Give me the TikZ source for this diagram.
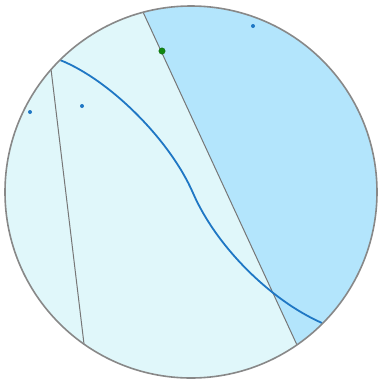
\documentclass[tikz,border=0pt]{standalone}
\usetikzlibrary{calc}
\definecolor{lightfill}{HTML}{E0F7FA}
\definecolor{darkfill}{HTML}{B3E5FC}
\definecolor{rimgray}{HTML}{888888}
\definecolor{linegray}{HTML}{777777}
\definecolor{curveblue}{HTML}{1F77C4}
\definecolor{dotgreen}{HTML}{118811}
\tikzset{
  rim/.style={draw=rimgray, line width=1.6pt},
  chord/.style={draw=linegray, line width=1.0pt},
  geo/.style={draw=curveblue, line width=1.8pt},
  bdot/.style={circle, fill=curveblue, inner sep=0pt, minimum size=4pt},
  gdot/.style={circle, fill=dotgreen, draw=dotgreen!70!black, line width=0.3pt, inner sep=0pt, minimum size=6.5pt}
}
\begin{document}
\begin{tikzpicture}[x=1pt,y=-1pt]
\useasboundingbox (0,0) rectangle (378,381);
\coordinate (O) at (191,192);
\fill[lightfill] (O) circle[radius=186pt];
\begin{scope}
  \clip (O) circle[radius=186pt];
  \fill[darkfill] (128.2,-20) -- (322.4,400) -- (420,400) -- (420,-20) -- cycle;
\end{scope}
\coordinate (a1) at (51,69);
\coordinate (a2) at (84,344);
\coordinate (b1) at (143,12);
\coordinate (b2) at (297,345);
\coordinate (c1) at (60,60);
\coordinate (cm) at (193,193);
\coordinate (c2) at (322,323);
\draw[chord] (a1) -- (a2);
\draw[chord] (b1) -- (b2);
\draw[geo] (c1) .. controls (110,80) and (170,140) .. (cm)
                .. controls (216,246) and (270,300) .. (c2);
\draw[rim] (O) circle[radius=186pt];
\node[bdot] (p1) at (253,26) {};
\node[bdot] (p2) at (30,112) {};
\node[bdot] (p3) at (82,106) {};
\node[gdot] (g1) at (162,51) {};
\end{tikzpicture}
\end{document}
